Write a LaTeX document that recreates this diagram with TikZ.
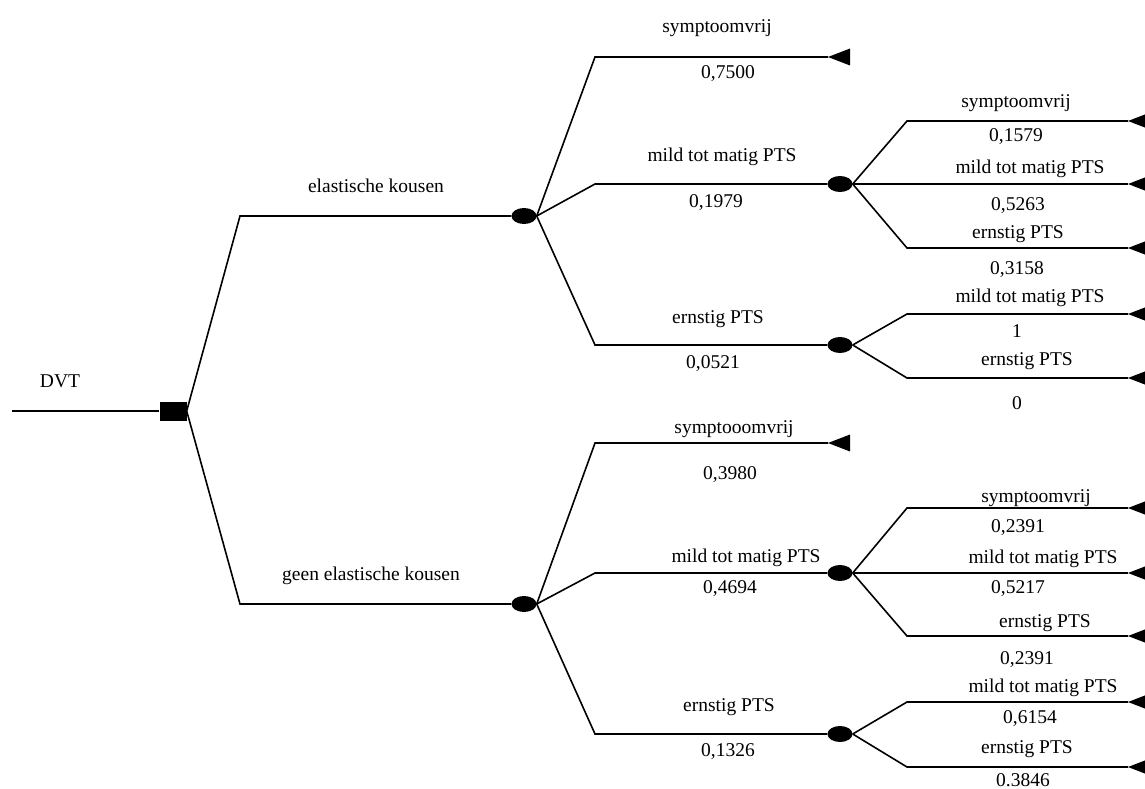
\documentclass[tikz,border=0pt]{standalone}
\usepackage{fontspec}
\setmainfont{Liberation Serif}
\usetikzlibrary{shapes.geometric}
\begin{document}
\begin{tikzpicture}[x=1pt,y=-1pt,
  edge/.style={line width=1.6pt,line join=miter},
  decision/.style={rectangle,fill=black,minimum width=27pt,minimum height=19pt,inner sep=0pt},
  chance/.style={ellipse,fill=black,minimum width=25pt,minimum height=16pt,inner sep=0pt},
  lbl/.style={anchor=base,inner sep=0pt,font=\fontsize{19.5}{22}\selectfont},
  endtip/.pic={\fill (0,0) -- (22,-8.5) -- (22,8.5) -- cycle;}]
\useasboundingbox (0,0) rectangle (1145,789);
\clip (0,0) rectangle (1145,789);

% root and decision
\coordinate (start) at (12,411);
\node[decision] (dvt) at (173,411) {};
\node[lbl] (dvtL) at (60,387) {DVT};

% first-level branches
\coordinate (b1) at (240,216);
\coordinate (b2) at (240,604);
\node[chance] (c1) at (524,216) {};
\node[chance] (c2) at (524,604) {};
\draw[edge] (start) -- (dvt.west);
\draw[edge] (dvt.east) -- (b1) -- (c1.west);
\draw[edge] (dvt.east) -- (b2) -- (c2.west);
\node[lbl] (l1) at (376,192) {elastische kousen};
\node[lbl] (l2) at (371,580) {geen elastische kousen};

% second level, upper
\coordinate (u1) at (595,57);
\coordinate (t1) at (828,57);
\coordinate (u2) at (595,184);
\node[chance] (c11) at (840,184) {};
\coordinate (u3) at (595,345);
\node[chance] (c12) at (840,345) {};
\draw[edge] (c1.east) -- (u1) -- (t1);
\draw[edge] (c1.east) -- (u2) -- (c11.west);
\draw[edge] (c1.east) -- (u3) -- (c12.west);
\pic at (t1) {endtip};
\node[lbl] (l11) at (717,33) {symptoomvrij};
\node[lbl] (p11) at (728,79) {0,7500};
\node[lbl] (l12) at (722,161) {mild tot matig PTS};
\node[lbl] (p12) at (716,207) {0,1979};
\node[lbl] (l13) at (718,323) {ernstig PTS};
\node[lbl] (p13) at (713,368) {0,0521};

% second level, lower
\coordinate (v1) at (595,443);
\coordinate (t2) at (828,443);
\coordinate (v2) at (595,573);
\node[chance] (c21) at (840,573) {};
\coordinate (v3) at (595,734);
\node[chance] (c22) at (840,734) {};
\draw[edge] (c2.east) -- (v1) -- (t2);
\draw[edge] (c2.east) -- (v2) -- (c21.west);
\draw[edge] (c2.east) -- (v3) -- (c22.west);
\pic at (t2) {endtip};
\node[lbl] (l21) at (734,433) {symptooomvrij};
\node[lbl] (p21) at (730,479) {0,3980};
\node[lbl] (l22) at (746,562) {mild tot matig PTS};
\node[lbl] (p22) at (730,593) {0,4694};
\node[lbl] (l23) at (729,711) {ernstig PTS};
\node[lbl] (p23) at (728,756) {0,1326};

% third level after c11
\coordinate (w1) at (907,121); \coordinate (e1) at (1128,121);
\coordinate (w2) at (907,184); \coordinate (e2) at (1128,184);
\coordinate (w3) at (907,248); \coordinate (e3) at (1128,248);
\draw[edge] (c11.east) -- (w1) -- (e1);
\draw[edge] (c11.east) -- (w2) -- (e2);
\draw[edge] (c11.east) -- (w3) -- (e3);
\pic at (e1) {endtip}; \pic at (e2) {endtip}; \pic at (e3) {endtip};
\node[lbl] (m1) at (1016,108) {symptoomvrij};
\node[lbl] (q1) at (1016,142) {0,1579};
\node[lbl] (m2) at (1030,173) {mild tot matig PTS};
\node[lbl] (q2) at (1018,210) {0,5263};
\node[lbl] (m3) at (1018,238) {ernstig PTS};
\node[lbl] (q3) at (1017,274) {0,3158};

% third level after c12
\coordinate (w4) at (907,314); \coordinate (e4) at (1128,314);
\coordinate (w5) at (907,378); \coordinate (e5) at (1128,378);
\draw[edge] (c12.east) -- (w4) -- (e4);
\draw[edge] (c12.east) -- (w5) -- (e5);
\pic at (e4) {endtip}; \pic at (e5) {endtip};
\node[lbl] (m4) at (1030,302) {mild tot matig PTS};
\node[lbl] (q4) at (1017,337) {1};
\node[lbl] (m5) at (1027,365) {ernstig PTS};
\node[lbl] (q5) at (1017,409) {0};

% third level after c21
\coordinate (w6) at (907,508); \coordinate (e6) at (1128,508);
\coordinate (w7) at (907,573); \coordinate (e7) at (1128,573);
\coordinate (w8) at (907,636); \coordinate (e8) at (1128,636);
\draw[edge] (c21.east) -- (w6) -- (e6);
\draw[edge] (c21.east) -- (w7) -- (e7);
\draw[edge] (c21.east) -- (w8) -- (e8);
\pic at (e6) {endtip}; \pic at (e7) {endtip}; \pic at (e8) {endtip};
\node[lbl] (m6) at (1036,502) {symptoomvrij};
\node[lbl] (q6) at (1018,532) {0,2391};
\node[lbl] (m7) at (1043,563) {mild tot matig PTS};
\node[lbl] (q7) at (1018,593) {0,5217};
\node[lbl] (m8) at (1045,627) {ernstig PTS};
\node[lbl] (q8) at (1027,664) {0,2391};

% third level after c22
\coordinate (w9) at (907,702); \coordinate (e9) at (1128,702);
\coordinate (w10) at (907,767); \coordinate (e10) at (1128,767);
\draw[edge] (c22.east) -- (w9) -- (e9);
\draw[edge] (c22.east) -- (w10) -- (e10);
\pic at (e9) {endtip}; \pic at (e10) {endtip};
\node[lbl] (m9) at (1043,692) {mild tot matig PTS};
\node[lbl] (q9) at (1030,723) {0,6154};
\node[lbl] (m10) at (1027,753) {ernstig PTS};
\node[lbl] (q10) at (1023,786) {0.3846};
\end{tikzpicture}
\end{document}
